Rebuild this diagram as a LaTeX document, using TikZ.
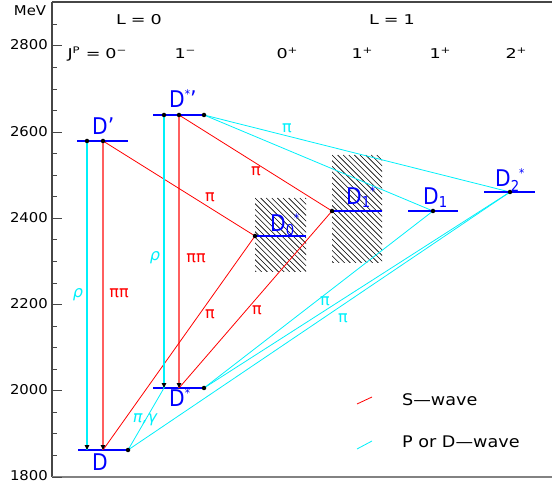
\documentclass[tikz,border=0pt]{standalone}
\usepackage{fontspec}
\setmainfont{DejaVu Sans}
\newfontfamily\labfont[FakeStretch=0.88]{DejaVu Sans}
\newfontfamily\widefont[FakeStretch=1.3]{DejaVu Sans}
\newfontfamily\tickfont[FakeStretch=1.1]{DejaVu Sans}
\definecolor{lvlblue}{RGB}{0,0,255}
\definecolor{swave}{RGB}{255,0,0}
\definecolor{swavelight}{RGB}{255,95,95}
\definecolor{pwave}{RGB}{0,240,250}
\definecolor{framegray}{RGB}{70,70,70}
\definecolor{lightframe}{RGB}{130,130,130}
\newcommand{\fs}[1]{\fontsize{#1}{#1}\selectfont}
\newcommand{\lstar}{\raisebox{9.5pt}{\fs{12}*}}
\newcommand{\lsub}[2]{\raisebox{-#2}{\fs{15}#1}}
\newcommand{\hsup}[1]{\raisebox{5pt}{\fs{9}#1}}
\begin{document}
\begin{tikzpicture}[x=1pt,y=-1pt,
  level/.style={draw=lvlblue,line width=1.1pt},
  sline/.style={draw=swave,line width=0.8pt},
  pline/.style={draw=pwave,line width=0.8pt},
  svline/.style={draw=swavelight,line width=1.3pt},
  pvline/.style={draw=pwave,line width=1.1pt},
  tiphead/.style={fill=black},
  dotnode/.style={circle,fill=black,inner sep=0pt,minimum size=4.5pt},
  statelabel/.style={anchor=base west,inner sep=0pt,text=lvlblue,font=\labfont\fs{23}},
  slab/.style={text=swave,inner sep=0pt,font=\fs{16}},
  plab/.style={text=pwave,inner sep=0pt,font=\fs{16}},
  header/.style={anchor=base,inner sep=0pt,font=\widefont\fs{13.5}},
  ticklab/.style={anchor=east,inner sep=0pt,font=\tickfont\fs{13.5}},
  legendtext/.style={anchor=base west,inner sep=0pt,font=\tickfont\fs{16}},
  hatchline/.style={draw=black,line width=0.6pt},
  axisline/.style={draw=framegray,line width=1.3pt}
]
\useasboundingbox (0,0) rectangle (552,486);

% frame and axis
\draw[axisline] (52,477) -- (52,2);
\draw[draw=framegray,line width=1.2pt] (52,2) -- (552,2);
\draw[draw=lightframe,line width=2pt] (52,477) -- (552,477);
\foreach \m in {1850,1900,...,2850}
  \draw[axisline,line width=1pt] (52,{477-(\m-1800)*0.431}) -- ++(5,0);
\foreach \m in {1800,2000,...,2800}{
  \draw[axisline,line width=1pt] (52,{477-(\m-1800)*0.431}) -- ++(10,0);
  \node[ticklab] (tick\m) at (48,{476-(\m-1800)*0.431}) {\m};
}
\node[inner sep=0pt,font=\tickfont\fs{13.5}] (mev) at (30,11) {MeV};

% headers
\node[header] (hL0) at (139,25) {L\hspace{5pt}=\hspace{5pt}0};
\node[header] (hL1) at (392,25) {L\hspace{5pt}=\hspace{5pt}1};
\node[header] (hJ) at (97,59) {J\hsup{P}\hspace{6pt}=\hspace{5pt}0\hsup{−}};
\node[header] (h1m) at (185,59) {1\hsup{−}};
\node[header] (h0p) at (287,59) {0\hsup{+}};
\node[header] (h1p) at (362,59) {1\hsup{+}};
\node[header] (h1pb) at (440,59) {1\hsup{+}};
\node[header] (h2p) at (516,59) {2\hsup{+}};

% hatched broad states
\begin{scope}
  \clip (255,198) rectangle (306,272);
  \foreach \k in {-15,...,10}
    \draw[hatchline] ({255+\k*5.6},198) -- ++(80,80);
\end{scope}
\begin{scope}
  \clip (332,155) rectangle (382,263);
  \foreach \k in {-21,...,10}
    \draw[hatchline] ({332+\k*5.6},155) -- ++(112,112);
\end{scope}

% coordinates of levels
\coordinate (DpL) at (77,141);   \coordinate (DpR) at (128,141);
\coordinate (DpC) at (87,141);   \coordinate (DpS) at (103,141);
\coordinate (DspL) at (153,115); \coordinate (DspR) at (205,115);
\coordinate (DspC) at (164,115); \coordinate (DspS) at (179,115); \coordinate (DspP) at (204,115);
\coordinate (D0L) at (255,236);  \coordinate (D0R) at (306,236);
\coordinate (D1bL) at (332,211); \coordinate (D1bR) at (382,211);
\coordinate (D1nL) at (408,211); \coordinate (D1nR) at (458,211); \coordinate (D1nP) at (433,211);
\coordinate (D2L) at (484,192);  \coordinate (D2R) at (535,192); \coordinate (D2P) at (510,192);
\coordinate (DL) at (78,450);    \coordinate (DR) at (128,450);
\coordinate (DC) at (87,450);    \coordinate (DS) at (103,450);
\coordinate (DsL) at (153,388);  \coordinate (DsR) at (204,388);
\coordinate (DsC) at (164,388);  \coordinate (DsS) at (179,388);

% level lines
\draw[level] (DL) -- (DR);
\draw[level] (DsL) -- (DsR);

% S-wave transitions
\draw[svline] (DpS) -- (DS);
\draw[svline] (DspS) -- (DsS);
\draw[sline] (DpS) -- (D0L);
\draw[sline] (DspS) -- (D1bL);
\draw[sline] (D0L) -- (DS);
\draw[sline] (D1bL) -- (DsS);

% P or D-wave transitions
\draw[pvline] (DpC) -- (DC);
\draw[pvline] (DspC) -- (DsC);
\draw[pline] (DspP) -- (D2P);
\draw[pline] (DspP) -- (D1nP);
\draw[pline] (DsR) -- (D1nP);
\draw[pline] (DsR) -- (D2P);
\draw[pline] (DR) -- (D2P);
\draw[pline] (DR) -- (DsC);

% upper level lines
\draw[level] (DpL) -- (DpR);
\draw[level] (DspL) -- (DspR);
\draw[level] (D0L) -- (D0R);
\draw[level] (D1bL) -- (D1bR);
\draw[level] (D1nL) -- (D1nR);
\draw[level] (D2L) -- (D2R);

% arrow heads of the vertical decays
\foreach \c in {DC,DS,DsC,DsS}
  \fill[tiphead] (\c) -- ++(-2.3,-4.8) -- ++(4.6,0) -- cycle;

% dots
\foreach \c in {DpC,DpS,DspC,DspS,DspP,D0L,D1bL,D1nP,D2P,DR,DsR}
  \node[dotnode] (dot\c) at (\c) {};

% state labels
\node[statelabel] (lDp) at (92,135) {D’};
\node[statelabel] (lDsp) at (169,108) {D\lstar’};
\node[statelabel] (lD) at (92,471) {D};
\node[statelabel] (lDs) at (169,407) {D\lstar};
\node[statelabel] (lD0) at (270,232) {D\lsub{0}{4pt}\lstar};
\node[statelabel] (lD1b) at (346,205) {D\lsub{1}{3pt}\lstar};
\node[statelabel] (lD1n) at (423,205) {D\lsub{1}{3pt}};
\node[statelabel] (lD2) at (495,187) {D\lsub{2}{5pt}\lstar};

% transition labels
\node[plab,font=\fs{16}\itshape] (rho1) at (78,295) {ρ};
\node[slab] (pipi1) at (119,293) {ππ};
\node[plab,font=\fs{16}\itshape] (rho2) at (155,258) {ρ};
\node[slab] (pipi2) at (196,258) {ππ};
\node[slab] (pi1) at (210,197) {π};
\node[slab] (pi2) at (256,171) {π};
\node[slab] (pi3) at (210,314) {π};
\node[slab] (pi4) at (257,310) {π};
\node[plab] (pi5) at (287,128) {π};
\node[plab] (pi6) at (325,301) {π};
\node[plab] (pi7) at (343,318) {π};
\node[plab,font=\fs{16}\itshape] (pigam) at (145,420) {π,γ};

% legend
\coordinate (legSa) at (357,404); \coordinate (legSb) at (372,397);
\coordinate (legPa) at (357,449); \coordinate (legPb) at (372,441);
\draw[sline] (legSa) -- (legSb);
\draw[pline] (legPa) -- (legPb);
\node[legendtext] (legS) at (402,406) {S—wave};
\node[legendtext] (legP) at (402,448) {P or D—wave};
\end{tikzpicture}
\end{document}
